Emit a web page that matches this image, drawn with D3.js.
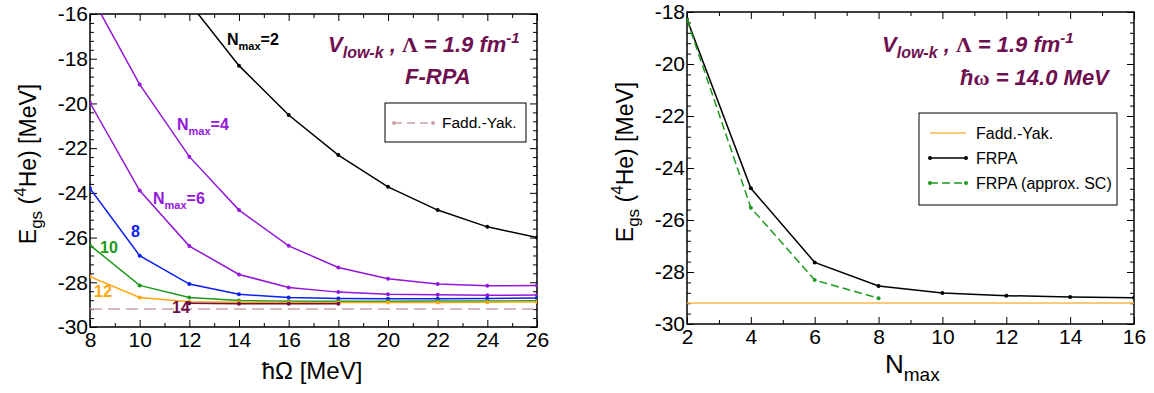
<!DOCTYPE html>
<html>
<head>
<meta charset="utf-8">
<script src="https://cdn.jsdelivr.net/npm/d3@7"></script>
<style>
  body { margin: 0; background: #fff; }
  svg { display: block; font-family: "Liberation Sans", Arial, sans-serif; }
</style>
</head>
<body>
<svg id="chart" width="1154" height="393"></svg>
<script>
// left panel: E_gs vs hbar*Omega for several Nmax
const hbarOmega = [8, 10, 12, 14, 16, 18, 20, 22, 24, 26];
const eNmax2  = [null, null, -15.5, -18.31, -20.52, -22.31, -23.73, -24.77, -25.52, -26.0];
const eNmax4  = [-15.1, -19.15, -22.38, -24.77, -26.37, -27.34, -27.84, -28.08, -28.16, -28.14];
const eNmax6  = [-19.97, -23.9, -26.38, -27.65, -28.23, -28.44, -28.53, -28.56, -28.58, -28.57];
const eNmax8  = [-23.8, -26.81, -28.08, -28.54, -28.68, -28.72, -28.74, -28.74, -28.72, -28.7];
const eNmax10 = [-26.34, -28.14, -28.68, -28.82, -28.85, -28.85, -28.85, -28.84, -28.84, -28.83];
const eNmax12 = [-27.75, -28.68, -28.87, -28.89, -28.9, -28.9, -28.9, -28.9, -28.89, -28.88];
const eNmax14 = [null, null, -28.94, -28.96, -28.96, -28.96, null, null, null, null];

// right panel: E_gs vs Nmax at hbar*omega = 14 MeV
const nmaxSteps = [2, 4, 6, 8, 10, 12, 14, 16];
const eFrpa   = [-18.28, -24.78, -27.63, -28.54, -28.81, -28.91, -28.96, -28.99];
const eFrpaSC = [-18.3, -25.53, -28.31, -29.01];

const eFaddYak = -29.19;

const leftXTicks  = [8, 10, 12, 14, 16, 18, 20, 22, 24, 26];
const leftYTicks  = [-30, -28, -26, -24, -22, -20, -18, -16];
const rightXTicks = [2, 4, 6, 8, 10, 12, 14, 16];
const rightYTicks = [-30, -28, -26, -24, -22, -20, -18];

const titleColor = "#6e1050";
const svg = d3.select("#chart");

function makePanel(id, left, top, w, h, xDom, yDom, xMaj, yMaj) {
  const g = svg.append("g").attr("transform", `translate(${left},${top})`);
  const x = d3.scaleLinear().domain(xDom).range([0, w]);
  const y = d3.scaleLinear().domain(yDom).range([h, 0]);

  g.append("clipPath").attr("id", id).append("rect").attr("width", w).attr("height", h);

  // minor ticks: one between x majors, four between y majors
  const xMin = d3.range(xDom[0] + 1, xDom[1], 2);
  const yMin = d3.range(0, Math.round((yDom[1] - yDom[0]) / 0.4) + 1)
    .filter(i => i % 5 !== 0).map(i => yDom[0] + i * 0.4);

  const fmt = d => String(d);
  const axes = [
    [d3.axisBottom(x).tickValues(xMaj).tickSize(-7).tickPadding(5).tickFormat(fmt), `translate(0,${h})`],
    [d3.axisBottom(x).tickValues(xMin).tickSize(-4).tickFormat(""), `translate(0,${h})`],
    [d3.axisTop(x).tickValues(xMaj).tickSize(-7).tickFormat(""), null],
    [d3.axisTop(x).tickValues(xMin).tickSize(-4).tickFormat(""), null],
    [d3.axisLeft(y).tickValues(yMaj).tickSize(-7).tickPadding(2).tickFormat(fmt), null],
    [d3.axisLeft(y).tickValues(yMin).tickSize(-4).tickFormat(""), null],
    [d3.axisRight(y).tickValues(yMaj).tickSize(-7).tickFormat(""), `translate(${w},0)`],
    [d3.axisRight(y).tickValues(yMin).tickSize(-4).tickFormat(""), `translate(${w},0)`]
  ];
  axes.forEach(([ax, tr]) => {
    const a = g.append("g").call(ax);
    if (tr) a.attr("transform", tr);
    a.attr("font-size", 21).attr("font-family", null);
    a.select(".domain").remove();
    a.selectAll("line").attr("stroke", "#000").attr("stroke-width", 1);
    a.selectAll("text").attr("fill", "#000");
  });

  g.append("rect").attr("width", w).attr("height", h)
    .attr("fill", "none").attr("stroke", "#000").attr("stroke-width", 1.5);

  const plot = g.append("g").attr("clip-path", `url(#${id})`);
  return { g, plot, x, y, w, h };
}

function drawSeries(p, xs, ys, color, opts = {}) {
  const pts = xs.map((v, i) => [v, ys[i]]).filter(d => d[1] != null && d[1] !== undefined);
  const line = d3.line().x(d => p.x(d[0])).y(d => p.y(d[1]));
  p.plot.append("path").datum(pts)
    .attr("d", line).attr("fill", "none")
    .attr("stroke", color).attr("stroke-width", opts.width || 1.5)
    .attr("stroke-dasharray", opts.dash || null);
  p.plot.selectAll(null).data(pts).enter().append("circle")
    .attr("cx", d => p.x(d[0])).attr("cy", d => p.y(d[1]))
    .attr("r", 2).attr("fill", color);
}

function nmaxLabel(g, x, y, color, tail) {
  const t = g.append("text").attr("x", x).attr("y", y)
    .attr("font-weight", "bold").attr("font-size", 16).attr("fill", color);
  t.append("tspan").text("N");
  t.append("tspan").attr("font-size", 11).attr("dy", 5).text("max");
  t.append("tspan").attr("dy", -5).text(tail);
}

function plainLabel(g, x, y, color, s) {
  g.append("text").attr("x", x).attr("y", y)
    .attr("font-weight", "bold").attr("font-size", 16).attr("fill", color).text(s);
}

function vlowkTitle(x, y) {
  const t = svg.append("text").attr("x", x).attr("y", y)
    .attr("font-weight", "bold").attr("font-style", "italic")
    .attr("font-size", 22).attr("fill", titleColor);
  t.append("tspan").text("V");
  t.append("tspan").attr("font-size", 16).attr("dy", 6).text("low-k");
  t.append("tspan").attr("dy", -6).text(" ,  ");
  t.append("tspan").attr("font-family", "Liberation Serif").attr("font-style", "normal").text("Λ");
  t.append("tspan").text(" = 1.9 fm");
  t.append("tspan").attr("font-size", 15).attr("dy", -9).text("-1");
}

function yLabel(x, y) {
  const t = svg.append("text").attr("transform", `translate(${x},${y}) rotate(-90)`)
    .attr("text-anchor", "middle").attr("font-size", 23).attr("fill", "#000");
  t.append("tspan").text("E");
  t.append("tspan").attr("font-size", 17).attr("dy", 6).text("gs");
  t.append("tspan").attr("dy", -6).text(" (");
  t.append("tspan").attr("font-size", 17).attr("dy", -10).text("4");
  t.append("tspan").attr("dy", 10).text("He) [MeV]");
}

// ---- left panel ----
const L = makePanel("clipL", 90, 14, 447, 313, [8, 26], [-30, -16], leftXTicks, leftYTicks);

L.plot.append("line")
  .attr("x1", 0).attr("x2", L.w)
  .attr("y1", L.y(eFaddYak)).attr("y2", L.y(eFaddYak))
  .attr("stroke", "#c9a3a6").attr("stroke-width", 1.5).attr("stroke-dasharray", "12,6");

drawSeries(L, hbarOmega, eNmax2, "#000");
drawSeries(L, hbarOmega, eNmax4, "#9416d8");
drawSeries(L, hbarOmega, eNmax6, "#9416d8");
drawSeries(L, hbarOmega, eNmax8, "#0a1ef0");
drawSeries(L, hbarOmega, eNmax10, "#1c9a1c");
drawSeries(L, hbarOmega, eNmax12, "#ffa510");
drawSeries(L, hbarOmega, eNmax14, "#6e1048");

nmaxLabel(svg, 227, 45, "#000", "=2");
nmaxLabel(svg, 177, 130, "#9416d8", "=4");
nmaxLabel(svg, 153, 204, "#9416d8", "=6");
plainLabel(svg, 131, 237, "#0a1ef0", "8");
plainLabel(svg, 100, 253, "#1c9a1c", "10");
plainLabel(svg, 94, 297, "#ffa510", "12");
plainLabel(svg, 172, 313, "#6e1048", "14");

vlowkTitle(328, 52);
svg.append("text").attr("x", 405).attr("y", 84)
  .attr("font-weight", "bold").attr("font-style", "italic")
  .attr("font-size", 22).attr("fill", titleColor).text("F-RPA");

// left legend
const lg = svg.append("g").attr("transform", "translate(385,103)");
lg.append("rect").attr("width", 141).attr("height", 39)
  .attr("fill", "#fff").attr("stroke", "#000").attr("stroke-width", 1);
lg.append("line").attr("x1", 9).attr("x2", 48).attr("y1", 20).attr("y2", 20)
  .attr("stroke", "#c9a3a6").attr("stroke-width", 1.5).attr("stroke-dasharray", "8,5");
[9, 48].forEach(cx => lg.append("circle").attr("cx", cx).attr("cy", 20).attr("r", 2).attr("fill", "#c9a3a6"));
lg.append("text").attr("x", 57).attr("y", 25).attr("font-size", 15.5).text("Fadd.-Yak.");

yLabel(36, 164);
svg.append("text").attr("x", 312).attr("y", 379).attr("text-anchor", "middle")
  .attr("font-size", 24).text("ħΩ [MeV]");

// ---- right panel ----
const R = makePanel("clipR", 687, 12, 447, 312, [2, 16], [-30, -18], rightXTicks, rightYTicks);

R.plot.append("line")
  .attr("x1", 0).attr("x2", R.w)
  .attr("y1", R.y(eFaddYak)).attr("y2", R.y(eFaddYak))
  .attr("stroke", "#ffb84a").attr("stroke-width", 1.5);

drawSeries(R, nmaxSteps, eFrpa, "#000");
drawSeries(R, nmaxSteps, eFrpaSC, "#1c9a1c", { dash: "8,4" });

vlowkTitle(882, 52);
const hw = svg.append("text").attr("x", 960).attr("y", 85)
  .attr("font-weight", "bold").attr("font-style", "italic")
  .attr("font-size", 22).attr("fill", titleColor);
hw.append("tspan").text("ħ");
hw.append("tspan").attr("font-family", "Liberation Serif").attr("font-style", "normal").text("ω");
hw.append("tspan").text(" = 14.0 MeV");

// right legend
const rg = svg.append("g").attr("transform", "translate(919,113)");
rg.append("rect").attr("width", 198).attr("height", 92)
  .attr("fill", "#fff").attr("stroke", "#000").attr("stroke-width", 1);
const rItems = [
  { label: "Fadd.-Yak.", color: "#ffb84a", dash: null, dots: false },
  { label: "FRPA", color: "#000", dash: null, dots: true },
  { label: "FRPA (approx. SC)", color: "#1c9a1c", dash: "8,4", dots: true }
];
rItems.forEach((it, i) => {
  const cy = 20 + i * 25;
  rg.append("line").attr("x1", 11).attr("x2", 47).attr("y1", cy).attr("y2", cy)
    .attr("stroke", it.color).attr("stroke-width", 1.5).attr("stroke-dasharray", it.dash);
  if (it.dots) [11, 47].forEach(cx => rg.append("circle").attr("cx", cx).attr("cy", cy).attr("r", 2).attr("fill", it.color));
  rg.append("text").attr("x", 57).attr("y", cy + 6).attr("font-size", 16).text(it.label);
});

yLabel(633, 162);
const nx = svg.append("text").attr("x", 885).attr("y", 373).attr("font-size", 26);
nx.append("tspan").text("N");
nx.append("tspan").attr("font-size", 19).attr("dy", 8).text("max");
</script>
</body>
</html>
